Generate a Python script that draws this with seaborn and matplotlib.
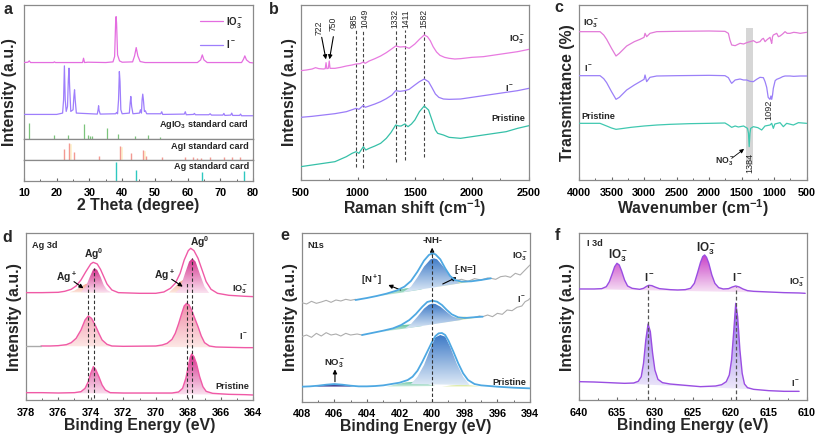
import numpy as np
import matplotlib
matplotlib.use('Agg')
import matplotlib.pyplot as plt
import seaborn as sns
from matplotlib.colors import LinearSegmentedColormap
from matplotlib.patches import PathPatch
from matplotlib.path import Path
from matplotlib.ticker import MultipleLocator

# ---------------- DATA (y in arbitrary intensity units) -------------
# Panel a : XRD
A_IO3_X = [10, 11.2, 11.6, 12, 19, 19.3, 19.6, 27.9, 28.2, 28.5, 29.5, 35, 37.2, 37.7, 38.0, 38.15, 38.3, 38.6, 39.2, 40,
           43.2, 43.8, 44.3, 44.8, 45.5, 47, 63, 64, 64.5, 65, 66, 76.5, 77.1, 77.5, 78, 79, 80]
A_IO3_Y = 417 - np.array([188, 187, 183, 188, 188, 186, 188, 188, 175, 188, 187, 188, 186, 170, 70, 50, 70, 165, 183, 187,
                          186, 168, 143, 168, 185, 188, 188, 180, 165, 180, 188, 188, 178, 168, 180, 188, 189])
A_I_X = [10, 20, 21.8, 22.1, 22.35, 22.6, 22.9, 23.3, 23.55, 23.75, 23.95, 24.3, 25.0, 25.25, 25.45, 25.65, 26.0, 32.4,
         32.65, 32.8, 32.95, 33.3, 38, 38.3, 38.6, 38.9, 39.15, 39.35, 39.6, 40, 42.2, 42.45, 42.65, 42.9, 43.3, 45.3,
         45.6, 45.9, 46.1, 46.3, 46.5, 46.8, 47.1, 47.5, 51.8, 52.1, 52.4, 59, 59.3, 59.6, 61.8, 62.1, 62.4, 66.5, 66.9,
         67.3, 70.8, 71.1, 71.4, 73.2, 73.5, 73.8, 75.9, 76.2, 76.5, 80]
A_I_Y = 417 - np.array([344, 344, 340, 300, 198, 300, 335, 320, 240, 205, 260, 335, 330, 290, 270, 300, 340, 343,
                        330, 318, 332, 343, 342, 338, 342, 300, 215, 245, 330, 342, 340, 310, 290, 320, 342, 340,
                        330, 340, 300, 283, 300, 335, 333, 342, 342, 336, 344, 343, 336, 345, 344, 341, 345, 345, 342,
                        346, 346, 341, 347, 346, 340, 347, 347, 343, 348, 348])
CARD_AGIO3_X = [11.6, 19.3, 23.4, 28.2, 29.7, 30.3, 30.9, 35.5, 38.8, 43.8, 47.9, 51.5]
CARD_AGIO3_H = 417 - np.array([370, 405, 405, 372, 405, 408, 408, 384, 403, 410, 406, 411])
CARD_AGI_X = [22.3, 23.7, 25.4, 32.8, 39.3, 42.6, 46.3, 47.2, 52.2, 59.3, 61.8, 62.9, 64.1, 66.9, 71.1, 73.5, 76.1, 79.9]
CARD_AGI_H = 149 - np.array([118, 100, 127, 137, 108, 130, 122, 137, 140, 142, 142, 143, 143, 141, 140, 142, 142, 143])
CARD_AG_X = [38.1, 44.3, 64.4, 77.4]
CARD_AG_H = 213 - np.array([157, 180, 186, 185])

# Panel b : Raman
B_IO3_X = [500, 550, 600, 630, 660, 700, 715, 722, 729, 742, 750, 757, 800, 850, 900, 950, 985, 1020, 1049, 1065, 1100,
           1150, 1200, 1250, 1300, 1332, 1370, 1411, 1450, 1500, 1540, 1582, 1610, 1635, 1660, 1690, 1720, 1760, 1800,
           1850, 1900, 2000, 2100, 2200, 2300, 2400, 2500]
B_IO3_Y = 540 - np.array([212, 210, 207, 203, 206, 207, 206, 188, 206, 205, 183, 205, 205, 202, 198, 195, 192, 191, 186,
                          190, 183, 176, 168, 158, 146, 138, 141, 140, 145, 132, 118, 105, 110, 122, 140, 156, 166, 172,
                          175, 177, 176, 172, 170, 165, 160, 155, 148])
B_I_X = [500, 600, 700, 800, 900, 960, 985, 1010, 1049, 1065, 1100, 1150, 1200, 1250, 1300, 1332, 1370, 1411, 1450, 1500,
         1540, 1582, 1620, 1650, 1680, 1710, 1750, 1800, 1900, 2000, 2100, 2200, 2300, 2400, 2500]
B_I_Y = 540 - np.array([352, 349, 345, 341, 335, 328, 325, 328, 316, 322, 318, 312, 305, 296, 285, 272, 274, 272, 268,
                        255, 245, 237, 245, 263, 282, 292, 297, 298, 297, 292, 287, 282, 277, 272, 265])
B_P_X = [500, 600, 700, 800, 900, 950, 985, 1010, 1049, 1070, 1100, 1150, 1200, 1250, 1290, 1332, 1360, 1380, 1411, 1440,
         1470, 1500, 1540, 1582, 1620, 1650, 1680, 1700, 1750, 1800, 1900, 2000, 2100, 2200, 2300, 2400, 2500]
B_P_Y = 540 - np.array([500, 495, 490, 485, 470, 460, 455, 460, 440, 450, 445, 438, 430, 415, 398, 375, 378, 378, 372,
                        380, 372, 360, 335, 318, 330, 360, 390, 400, 405, 412, 415, 410, 405, 400, 395, 385, 377])
B_LINES_X = [985, 1049, 1332, 1411, 1582]
B_LINES_BOTTOM = [40, 35, 55, 60, 70]
B_LABELS = ['985', '1049', '1332', '1411', '1582']
B_LABEL_POS = [968, 1064, 1326, 1420, 1582]

# Panel c : FTIR
C_IO3_X = [4000, 3677, 3620, 3575, 3500, 3431, 3380, 3267, 3150, 3062, 3000, 2985, 2960, 2909, 2806, 2500, 2000, 1756,
           1704, 1680, 1653, 1600, 1525, 1470, 1423, 1370, 1320, 1270, 1218, 1190, 1166, 1140, 1115, 1090, 1064, 1050,
           1038, 1025, 1013, 961, 935, 910, 870, 833, 800, 756, 700, 654, 600, 500]
C_IO3_Y = 540 - np.array([95, 95, 105, 118, 145, 168, 160, 138, 125, 118, 112, 100, 110, 100, 95, 94, 93, 94,
                          100, 120, 135, 137, 130, 132, 128, 125, 122, 128, 125, 118, 115, 125, 120, 116, 112, 122,
                          130, 110, 105, 100, 110, 108, 102, 95, 100, 100, 97, 98, 100, 97])
C_I_X = [4000, 3677, 3620, 3575, 3500, 3431, 3380, 3267, 3150, 3062, 3000, 2985, 2960, 2909, 2806, 2500, 2000, 1756,
         1704, 1670, 1653, 1600, 1525, 1470, 1423, 1370, 1320, 1270, 1218, 1166, 1140, 1115, 1092, 1075, 1064, 1050,
         1038, 1025, 1013, 985, 961, 910, 870, 833, 756, 700, 600, 500]
C_I_Y = 540 - np.array([227, 227, 236, 248, 275, 298, 292, 270, 255, 245, 238, 225, 245, 232, 228, 227, 226, 227,
                        233, 245, 250, 240, 237, 240, 240, 244, 245, 238, 232, 233, 245, 262, 292, 296, 298, 288,
                        298, 285, 265, 242, 238, 234, 230, 228, 228, 229, 228, 228])
C_P_X = [4000, 3677, 3575, 3500, 3431, 3350, 3200, 3000, 2800, 2600, 2300, 2000, 1756, 1704, 1653, 1600, 1550, 1470,
         1410, 1395, 1384, 1372, 1361, 1320, 1250, 1192, 1141, 1064, 1038, 1013, 990, 910, 859, 808, 705, 628, 500]
C_P_Y = 540 - np.array([370, 370, 378, 384, 388, 386, 382, 378, 375, 373, 371, 370, 369, 375, 382, 378, 381, 378,
                        385, 400, 440, 400, 385, 380, 383, 390, 378, 375, 370, 385, 372, 368, 380, 370, 375, 368, 370])
C_BAND = (1432, 1320)

# Panel d : Ag 3d XPS
D_IO3_X = [378, 377, 376, 375.6, 375.2, 374.9, 374.6, 374.3, 374.0, 373.85, 373.6, 373.4, 373.2, 373.0, 372.7, 372.3,
           371, 370, 369.5, 369.1, 368.8, 368.5, 368.25, 368.0, 367.85, 367.65, 367.4, 367.15, 366.9, 366.6, 366.2,
           365.5, 364.5, 364]
D_IO3_Y = 540 - np.array([218, 218, 217, 214, 208, 198, 180, 155, 132, 127, 132, 148, 170, 192, 210, 218,
                          220, 220, 216, 205, 190, 160, 120, 92, 85, 92, 115, 150, 185, 208, 220,
                          226, 229, 230])
D_IO3_AG0A_X = [374.6, 374.3, 374.05, 373.85, 373.75, 373.6, 373.4, 373.2, 373.0, 372.7]
D_IO3_AG0A_Y = 540 - np.array([217, 200, 170, 148, 145, 150, 170, 195, 210, 218])
D_IO3_AGPA_X = [375.3, 375.0, 374.6, 374.3, 374.1, 373.9, 373.6, 373.3, 373.0]
D_IO3_AGPA_Y = 540 - np.array([217, 212, 200, 192, 190, 195, 205, 215, 218])
D_IO3_AG0B_X = [368.8, 368.5, 368.2, 367.95, 367.75, 367.55, 367.3, 367.0, 366.7]
D_IO3_AG0B_Y = 540 - np.array([219, 205, 160, 125, 115, 125, 160, 200, 220])
D_IO3_AGPB_X = [369.2, 368.8, 368.5, 368.2, 368.0, 367.7, 367.4, 367.0]
D_IO3_AGPB_Y = 540 - np.array([218, 200, 185, 177, 178, 190, 205, 219])
D_I_X = [377.06, 376.5, 376, 375.5, 375.2, 374.9, 374.6, 374.35, 374.15, 373.95, 373.7, 373.5, 373.3, 373.0, 372.7,
         372, 370, 369.6, 369.3, 369.0, 368.8, 368.6, 368.4, 368.25, 368.1, 367.95, 367.8, 367.6, 367.4, 367.2, 367.0,
         366.7, 366.3, 365.5, 364.5, 364]
D_I_Y = 540 - np.array([378, 378, 377, 374, 368, 355, 330, 300, 288, 295, 318, 340, 360, 373, 378,
                        379, 378, 375, 370, 358, 340, 312, 280, 258, 250, 255, 270, 295, 320, 348, 368,
                        378, 381, 382, 383, 383])
D_I_LEAD_X = [378, 377.06]
D_I_LEAD_Y = 540 - np.array([378, 378])
D_P_X = [378, 377, 376, 375, 374.6, 374.35, 374.15, 374.0, 373.84, 373.7, 373.5, 373.3, 373.1, 372.8, 372, 370, 369,
         368.6, 368.35, 368.15, 368.0, 367.88, 367.79, 367.65, 367.5, 367.3, 367.1, 366.9, 366.5, 365.5, 364.5, 364]
D_P_Y = 540 - np.array([518, 518, 519, 518, 515, 505, 485, 460, 440, 448, 470, 495, 510, 518, 519, 519, 519,
                        516, 505, 475, 440, 412, 402, 410, 430, 470, 500, 514, 520, 523, 524, 525])
D_LINES_X = [374.15, 373.8, 368.1, 367.75]
D_LINES_TOP = [345, 395, 350, 425]

# Panel e : N 1s XPS
E_IO3_RAWL_X = [408, 407.7, 407.4, 407.1, 406.8, 406.5, 406.2, 405.9, 405.6, 405.3, 405.0, 404.7]
E_IO3_RAWL_Y = 545 - np.array([248, 252, 244, 250, 246, 241, 247, 240, 243, 238, 241, 238])
E_IO3_RAWR_X = [398.6, 398.2, 397.8, 397.4, 397.0, 396.6, 396.4, 396.1, 395.8, 395.5, 395.2, 394.9, 394.6, 394.3, 394.1, 394.0]
E_IO3_RAWR_Y = 545 - np.array([182, 178, 184, 176, 180, 174, 175, 178, 170, 168, 172, 160, 165, 150, 140, 135])
E_IO3_FIT_X = [404.7, 404, 403.4, 402.8, 402.2, 401.7, 401.3, 400.9, 400.5, 400.2, 400.0, 399.8, 399.5, 399.2, 398.9,
               398.6, 398.2, 397.6, 397, 396.4]
E_IO3_FIT_Y = 545 - np.array([240, 234, 228, 221, 212, 200, 183, 155, 122, 105, 100, 103, 118, 145, 168,
                              180, 185, 184, 180, 175])
E_I_RAWL_X = [408, 407.7, 407.4, 407.1, 406.8, 406.5, 406.2, 405.9, 405.6, 405.3, 405.0, 404.6, 404.3]
E_I_RAWL_Y = 545 - np.array([350, 345, 352, 340, 348, 338, 345, 342, 348, 340, 345, 342, 345])
E_I_RAWR_X = [397.4, 397.1, 396.9, 396.6, 396.3, 396.0, 395.7, 395.4, 395.1, 394.8, 394.5, 394.3, 394.1, 394.0]
E_I_RAWR_Y = 545 - np.array([292, 288, 290, 285, 290, 280, 283, 270, 272, 262, 258, 245, 240, 235])
E_I_FIT_X = [404.3, 403.6, 403, 402.4, 401.9, 401.4, 401.0, 400.6, 400.3, 400.0, 399.7, 399.4, 399.1, 398.8, 398.4,
             398.0, 397.5, 396.9]
E_I_FIT_Y = 545 - np.array([345, 338, 332, 325, 315, 300, 282, 260, 246, 242, 245, 255, 270, 283, 292,
                            294, 292, 290])
E_P_FIT_X = [408, 407.5, 407, 406.5, 406, 405.5, 405, 404.5, 404, 403.5, 403, 402.5, 402, 401.5, 401.2, 400.9, 400.6,
             400.3, 400.0, 399.8, 399.6, 399.4, 399.2, 399.0, 398.7, 398.4, 398.1, 397.8, 397.4, 397, 396.5, 396, 395, 394]
E_P_FIT_Y = 545 - np.array([500, 499, 497, 494, 492, 494, 497, 499, 499, 498, 496, 492, 488, 480, 470, 452, 425,
                            395, 365, 348, 340, 339, 345, 362, 395, 430, 460, 480, 492, 496, 498, 500, 503, 505])
E_IO3_NH = ([401.8, 401.3, 400.9, 400.5, 400.1, 399.9, 399.7, 399.4, 399.0, 398.6, 398.3],
            545 - np.array([217, 200, 172, 140, 118, 115, 118, 135, 160, 180, 190]))
E_IO3_NP = ([403.3, 402.7, 402.1, 401.6, 401.1, 400.6], 545 - np.array([229, 220, 210, 205, 204, 208]))
E_IO3_NE = ([399.8, 399.3, 398.8, 398.3, 397.7, 397.0], 545 - np.array([202, 192, 186, 183, 182, 180]))
E_I_NH = ([401.7, 401.3, 400.9, 400.5, 400.2, 400.0, 399.8, 399.5, 399.1, 398.8, 398.4, 398.1],
          545 - np.array([326, 312, 290, 266, 254, 251, 252, 260, 276, 288, 296, 299]))
E_I_NP = ([403.0, 402.4, 401.8, 401.2, 400.6], 545 - np.array([335, 324, 315, 313, 318]))
E_I_NE = ([399.5, 399.0, 398.5, 398.0, 397.4], 545 - np.array([309, 299, 292, 290, 294]))
E_P_NH = ([401.3, 400.9, 400.5, 400.1, 399.8, 399.5, 399.2, 398.9, 398.5, 398.1, 397.7],
          545 - np.array([492, 470, 435, 385, 352, 345, 350, 380, 430, 470, 495]))
E_P_NO3 = ([407.2, 406.6, 406.0, 405.4, 404.8], 545 - np.array([500, 495, 492, 495, 500]))
E_P_NP = ([402.8, 402.2, 401.6, 401.0, 400.4, 399.8], 545 - np.array([500, 493, 487, 485, 490, 498]))
E_P_NE = ([399.4, 398.8, 398.2, 397.6, 397.0], 545 - np.array([500, 496, 494, 496, 500]))

# Panel f : I 3d XPS
F_IO3_X = [640, 638, 637, 636.4, 636.0, 635.6, 635.3, 635.0, 634.7, 634.4, 634.0, 633.6, 633.0, 632.0, 631.5, 631.1,
           630.8, 630.4, 630.0, 629.4, 628, 627, 626, 625.3, 624.8, 624.4, 624.0, 623.7, 623.45, 623.2, 622.9, 622.5,
           622.1, 621.6, 621, 620.3, 619.8, 619.35, 618.9, 618.4, 617.8, 617, 615, 613, 611, 610.2]
F_IO3_Y = 540 - np.array([207, 207, 206, 200, 185, 160, 140, 130, 135, 152, 180, 198, 205, 208, 205, 199,
                          196, 197, 201, 206, 209, 210, 209, 205, 190, 160, 128, 110, 105, 112, 130, 165,
                          190, 203, 207, 206, 201, 198, 201, 207, 212, 214, 216, 218, 219, 220])
F_I_X = [640, 638, 636, 634, 632.8, 632.2, 631.8, 631.5, 631.2, 630.9, 630.6, 630.3, 630.0, 629.6, 629.0, 628, 626, 624,
         622, 621.2, 620.6, 620.2, 619.9, 619.6, 619.35, 619.1, 618.8, 618.5, 618.2, 617.8, 617, 615, 613, 611]
F_I_Y = 540 - np.array([485, 486, 488, 490, 489, 484, 470, 430, 360, 312, 335, 400, 450, 478, 488, 492, 496, 500,
                        498, 494, 485, 465, 420, 330, 250, 290, 390, 460, 492, 503, 508, 512, 514, 514])
F_LINES_X = [630.9, 619.35]
F_LINES_TOP = [345, 340]

# ---------------- STYLE ----------------
sns.set_theme(style='ticks')
plt.rcParams.update({
    'font.family': ['Liberation Sans', 'DejaVu Sans'],
    'font.weight': 'bold',
    'axes.labelweight': 'bold',
    'mathtext.fontset': 'custom',
    'mathtext.rm': 'Liberation Sans:bold',
    'mathtext.it': 'Liberation Sans:bold',
    'mathtext.bf': 'Liberation Sans:bold',
    'mathtext.sf': 'Liberation Sans:bold',
    'axes.edgecolor': '#8a8a8a',
    'axes.linewidth': 0.9,
    'xtick.direction': 'in',
    'xtick.major.size': 2.5,
    'xtick.minor.size': 1.5,
    'xtick.major.width': 0.8,
    'xtick.minor.width': 0.7,
    'xtick.color': '#666666',
    'xtick.labelcolor': 'black',
    'xtick.labelsize': 7.8,
    'xtick.major.pad': 5.5,
    'axes.labelsize': 11.4,
})

W, H = 817, 438
fig = plt.figure(figsize=(W / 100, H / 100), dpi=100)

IO3 = r'IO$_3^-$'
IM = r'I$^-$'
LBL = 6.6


def mk(l, t, r, b):
    return fig.add_axes([l / W, 1 - b / H, (r - l) / W, (b - t) / H])


def line(ax, x, y, c, lw=0.9, z=3):
    sns.lineplot(x=np.asarray(x, float), y=np.asarray(y, float), ax=ax, color=c, linewidth=lw,
                 estimator=None, sort=False, legend=False, zorder=z)


def grad_poly(ax, px, py, ctop, cbot, z=2):
    v = np.column_stack([np.asarray(px, float), np.asarray(py, float)])
    v = np.vstack([v, v[:1]])
    patch = PathPatch(Path(v, closed=True), facecolor='none', edgecolor='none', transform=ax.transData)
    ax.add_patch(patch)
    cmap = LinearSegmentedColormap.from_list('g', [cbot, ctop])
    im = ax.imshow(np.linspace(0, 1, 128).reshape(-1, 1), cmap=cmap, aspect='auto', origin='lower',
                   extent=[min(px), max(px), min(py), max(py)], zorder=z, interpolation='bilinear')
    im.set_clip_path(patch)


def finish(ax, xlim, ylim, major, minor, xlabel):
    ax.set_xlim(*xlim)
    ax.set_ylim(*ylim)
    ax.xaxis.set_major_locator(MultipleLocator(major))
    ax.xaxis.set_minor_locator(MultipleLocator(minor))
    ax.set_yticks([])
    ax.set_xlabel(xlabel, labelpad=0)
    ax.tick_params(axis='x', which='both', top=False)


def arrow(ax, x0, y0, x1, y1, lw=0.8):
    ax.annotate('', xy=(x1, y1), xytext=(x0, y0),
                arrowprops=dict(arrowstyle='-|>', color='black', lw=lw, mutation_scale=6, shrinkA=0, shrinkB=0))


# ---------------- PANEL a ----------------
PINK, PURP, TEAL = '#e46de0', '#9e7efc', '#3cc6ae'
axa = mk(24, 5, 253, 138.7)
axa2 = mk(24, 138.7, 253, 159.7)
axa3 = mk(24, 159.7, 253, 180.5)
line(axa, A_IO3_X, A_IO3_Y, PINK, 0.9)
line(axa, A_I_X, A_I_Y, PURP, 0.9)
axa.vlines(CARD_AGIO3_X, 0, CARD_AGIO3_H, color='#7cc47c', lw=0.9)
for hx in [23.7, 39.3, 46.3]:
    i = CARD_AGI_X.index(hx)
    axa2.bar(hx + 0.45, CARD_AGI_H[i], width=0.9, color='#fdf1c8', zorder=1)
axa2.vlines(CARD_AGI_X, 0, CARD_AGI_H, color='#f39a92', lw=1.0, zorder=2)
axa3.vlines(CARD_AG_X, 0, CARD_AG_H, color='#2ec8c0', lw=1.0)
for ax, yl in [(axa, (0, 402)), (axa2, (0, 61)), (axa3, (0, 64))]:
    ax.set_xlim(10, 80)
    ax.set_ylim(*yl)
    ax.set_yticks([])
    ax.xaxis.set_major_locator(MultipleLocator(10))
    ax.xaxis.set_minor_locator(MultipleLocator(5))
axa.tick_params(axis='x', which='both', labelbottom=False, bottom=False)
axa2.tick_params(axis='x', which='both', labelbottom=False, bottom=False)
axa3.set_xlabel('2 Theta (degree)', labelpad=0)
axa.text(78.8, 42, r'AgIO$_3$ standard card', ha='right', va='center', fontsize=LBL)
axa2.text(78.8, 38, 'AgI standard card', ha='right', va='center', fontsize=LBL)
axa3.text(78.8, 43, 'Ag standard card', ha='right', va='center', fontsize=LBL)
hl = [plt.Line2D([], [], color=PINK, lw=0.9), plt.Line2D([], [], color=PURP, lw=0.9)]
axa.legend(hl, [IO3, IM], loc='upper right', bbox_to_anchor=(1.0, 1.0), frameon=False, fontsize=7,
           handlelength=2.4, labelspacing=0.9, handletextpad=0.3, borderaxespad=0.6)
fig.text(10 / W, 1 - 92 / H, 'Intensity (a.u.)', rotation=90, ha='center', va='center',
         fontsize=11.4, fontweight='bold')

# ---------------- PANEL b ----------------
axb = mk(300.7, 5, 529, 180)
line(axb, B_IO3_X, B_IO3_Y, '#e87ae0')
line(axb, B_I_X, B_I_Y, '#9b7cf8')
line(axb, B_P_X, B_P_Y, '#36c0a8')
axb.vlines(B_LINES_X, B_LINES_BOTTOM, 450, colors='#444444', linestyles=(0, (3, 2)), lw=0.8)
for xx, t in zip(B_LABEL_POS, B_LABELS):
    axb.text(xx, 455, t, rotation=90, ha='center', va='bottom', fontsize=6.2, fontweight='normal')
axb.text(663, 435, '722', rotation=90, ha='center', va='bottom', fontsize=6.2, fontweight='normal')
axb.text(786, 448, '750', rotation=90, ha='center', va='bottom', fontsize=6.2, fontweight='normal')
arrow(axb, 684, 428, 721, 362)
arrow(axb, 786, 430, 752, 362)
axb.text(2470, 420, IO3, ha='right', va='center', fontsize=LBL)
axb.text(2374, 275, IM, ha='right', va='center', fontsize=LBL)
axb.text(2470, 185, 'Pristine', ha='right', va='center', fontsize=LBL)
finish(axb, (500, 2500), (0, 525), 500, 250, r'Raman shift (cm$^{-1}$)')
axb.set_ylabel('Intensity (a.u.)', labelpad=3)

# ---------------- PANEL c ----------------
axc = mk(579, 5, 806.7, 180)
axc.fill_between(list(C_BAND), 45, 455, color='#d6d6d6', lw=0, zorder=1)
line(axc, C_IO3_X, C_IO3_Y, '#e27ad8')
line(axc, C_I_X, C_I_Y, '#9b80f8')
line(axc, C_P_X, C_P_Y, '#40c8b0')
axc.text(3944, 470, IO3, ha='left', va='center', fontsize=LBL)
axc.text(3918, 335, IM, ha='left', va='center', fontsize=LBL)
axc.text(3959, 190, 'Pristine', ha='left', va='center', fontsize=LBL)
axc.text(1078, 240, '1092', rotation=90, ha='center', va='top', fontsize=6.6, fontweight='normal')
axc.text(1371, 80, '1384', rotation=90, ha='center', va='top', fontsize=6.6, fontweight='normal')
axc.text(1766, 57, r'NO$_3^-$', ha='center', va='center', fontsize=6.2)
arrow(axc, 1653, 65, 1463, 93, lw=0.6)
finish(axc, (4000, 500), (0, 525), 500, 250, r'Wavenumber (cm$^{-1}$)')
axc.set_ylabel('Transmittance (%)', labelpad=3)

# ---------------- PANEL d ----------------
axd = mk(25.7, 233.3, 253.3, 400)
DPINK = '#f05aa6'
MAG_T, MAG_B = '#d22c8a', '#fbe3f0'
PEA_T, PEA_B = '#f6a088', '#fde9e0'
grad_poly(axd, D_IO3_AGPA_X, D_IO3_AGPA_Y, PEA_T, PEA_B, 1)
grad_poly(axd, D_IO3_AGPB_X, D_IO3_AGPB_Y, PEA_T, PEA_B, 1)
grad_poly(axd, D_IO3_AG0A_X, D_IO3_AG0A_Y, MAG_T, MAG_B, 2)
grad_poly(axd, D_IO3_AG0B_X, D_IO3_AG0B_Y, MAG_T, MAG_B, 2)
grad_poly(axd, D_I_X, D_I_Y, '#f08aa8', '#fdeae6', 1)
grad_poly(axd, D_P_X, D_P_Y, MAG_T, MAG_B, 1)
line(axd, D_IO3_X, D_IO3_Y, DPINK, 1.0)
line(axd, D_I_X, D_I_Y, DPINK, 1.0)
line(axd, D_I_LEAD_X, D_I_LEAD_Y, '#aaaaaa', 1.0)
line(axd, D_P_X, D_P_Y, DPINK, 1.0)
axd.vlines(D_LINES_X, 5, D_LINES_TOP, colors='#333333', linestyles=(0, (3, 2)), lw=0.8, zorder=4)
axd.text(377.63, 462, 'Ag 3d', ha='left', va='center', fontsize=LBL)
axd.text(373.8, 437, r'Ag$^0$', ha='center', va='center', fontsize=7.4)
axd.text(367.28, 475, r'Ag$^0$', ha='center', va='center', fontsize=7.4)
axd.text(375.48, 368, r'Ag$^+$', ha='center', va='center', fontsize=7.4)
axd.text(369.47, 375, r'Ag$^+$', ha='center', va='center', fontsize=7.4)
arrow(axd, 375.03, 355, 374.45, 335)
arrow(axd, 369.02, 362, 368.34, 340)
axd.text(364.3, 332, IO3, ha='right', va='center', fontsize=LBL)
axd.text(364.3, 190, IM, ha='right', va='center', fontsize=LBL)
axd.text(364.25, 40, 'Pristine', ha='right', va='center', fontsize=LBL)
finish(axd, (378, 364), (0, 500), 2, 1, 'Binding Energy (eV)')
axd.set_ylabel('Intensity (a.u.)', labelpad=3)

# ---------------- PANEL e ----------------
axe = mk(301.7, 233.3, 530, 401.7)
BLUE = '#4ea8e2'
NH_T, NH_B = '#3b78c6', '#dde9f6'
GR_T, GR_B = '#5cbf9c', '#dcf2e6'
YE_T, YE_B = '#c8e07a', '#f3f8dc'
for comp, ct, cb in [(E_IO3_NP, GR_T, GR_B), (E_IO3_NE, YE_T, YE_B), (E_IO3_NH, NH_T, NH_B),
                     (E_I_NP, GR_T, GR_B), (E_I_NE, YE_T, YE_B), (E_I_NH, NH_T, NH_B),
                     (E_P_NP, GR_T, GR_B), (E_P_NE, YE_T, YE_B), (E_P_NH, NH_T, NH_B),
                     (E_P_NO3, '#22227a', '#6a6ab0')]:
    grad_poly(axe, comp[0], comp[1], ct, cb, 2)
GRAY = '#adadad'
line(axe, E_IO3_RAWL_X, E_IO3_RAWL_Y, GRAY, 0.8)
line(axe, E_IO3_RAWR_X, E_IO3_RAWR_Y, GRAY, 0.8)
line(axe, E_I_RAWL_X, E_I_RAWL_Y, GRAY, 0.8)
line(axe, E_I_RAWR_X, E_I_RAWR_Y, GRAY, 0.8)
line(axe, E_IO3_FIT_X, E_IO3_FIT_Y, BLUE, 1.3, 4)
line(axe, E_I_FIT_X, E_I_FIT_Y, BLUE, 1.3, 4)
line(axe, E_P_FIT_X, E_P_FIT_Y, BLUE, 1.3, 4)
axe.vlines([400], 0, 455, colors='#333333', linestyles=(0, (3, 2)), lw=0.8, zorder=5)
arrow(axe, 400, 440, 400, 462)
axe.text(399.97, 483, '-NH-', ha='center', va='center', fontsize=6.8)
axe.text(407.63, 467, 'N1s', ha='left', va='center', fontsize=LBL)
axe.text(403.7, 363, r'[N$^+$]', ha='center', va='center', fontsize=6.8)
arrow(axe, 401.93, 335, 402.69, 350)
axe.text(397.99, 395, '[-N=]', ha='center', va='center', fontsize=6.8)
arrow(axe, 399.35, 353, 398.5, 373)
axe.text(405.96, 113, r'NO$_3^-$', ha='center', va='center', fontsize=6.8)
arrow(axe, 405.96, 60, 405.96, 97)
axe.text(394.1, 435, IO3, ha='right', va='center', fontsize=LBL)
axe.text(394.25, 305, IM, ha='right', va='center', fontsize=LBL)
axe.text(394.25, 57, 'Pristine', ha='right', va='center', fontsize=LBL)
finish(axe, (408, 394), (0, 505), 2, 1, 'Binding Energy (eV)')
axe.set_ylabel('Intensity (a.u.)', labelpad=3)

# ---------------- PANEL f ----------------
axf = mk(579, 233.3, 806.7, 400)
VIO = '#9a4ee2'
grad_poly(axf, F_IO3_X, F_IO3_Y, '#c83ec6', '#f8e6f6', 1)
grad_poly(axf, F_I_X, F_I_Y, '#8768e4', '#f0ebfb', 1)
line(axf, F_IO3_X, F_IO3_Y, VIO, 1.0)
line(axf, F_I_X, F_I_Y, VIO, 1.0)
axf.vlines(F_LINES_X, 0, F_LINES_TOP, colors='#555555', linestyles=(0, (3, 2)), lw=0.9, zorder=4)
axf.text(639, 468, 'I 3d', ha='left', va='center', fontsize=LBL)
axf.text(634.9, 432, IO3, ha='center', va='center', fontsize=8.4)
axf.text(623.26, 455, IO3, ha='center', va='center', fontsize=8.4)
axf.text(630.73, 368, IM, ha='center', va='center', fontsize=8.0)
axf.text(619.14, 368, IM, ha='center', va='center', fontsize=8.0)
axf.text(610.2, 352, IO3, ha='right', va='center', fontsize=LBL)
axf.text(610.9, 50, IM, ha='right', va='center', fontsize=LBL)
finish(axf, (640, 610), (0, 500), 5, 2.5, 'Binding Energy (eV)')
axf.set_ylabel('Intensity (a.u.)', labelpad=3)

# ---------------- panel letters ----------------
for t, x, y in [('a', 8, 9), ('b', 274, 9), ('c', 559, 8), ('d', 7, 237), ('e', 285, 235), ('f', 557, 235)]:
    fig.text(x / W, 1 - y / H, t, fontsize=11.5, fontweight='bold', ha='center', va='center')

fig.savefig('out.png', dpi=100)
